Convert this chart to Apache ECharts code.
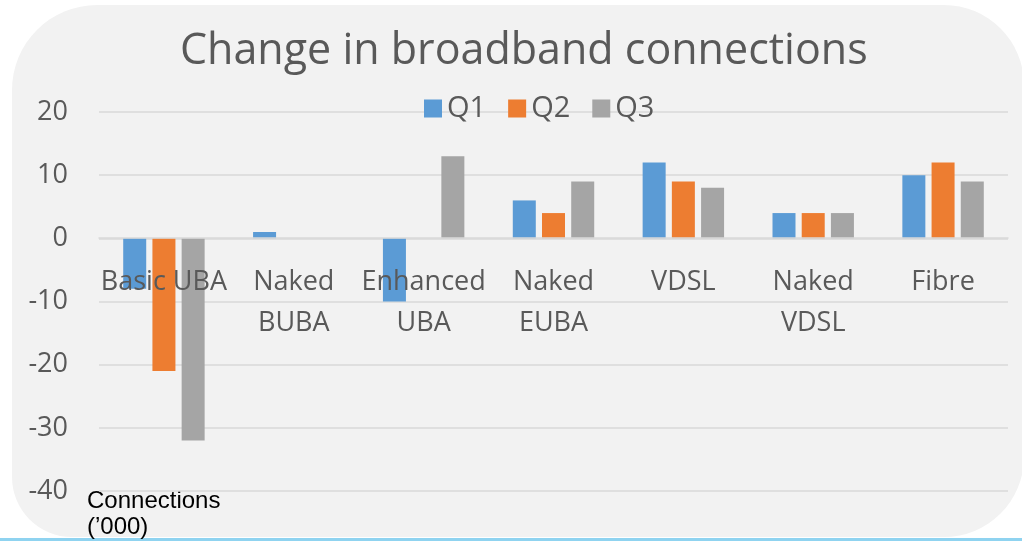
<!DOCTYPE html>
<html>
<head>
<meta charset="UTF-8">
<title>Change in broadband connections</title>
<script src="https://cdn.jsdelivr.net/npm/echarts@6/dist/echarts.min.js"></script>
<style>
  html, body { margin: 0; padding: 0; background: #fff; }
  #chart { width: 1022px; height: 541px; }
</style>
</head>
<body>
<div id="chart"></div>
<script>
// data
var categories = ['Basic UBA', 'Naked\nBUBA', 'Enhanced\nUBA', 'Naked\nEUBA', 'VDSL', 'Naked\nVDSL', 'Fibre'];
var q1 = [-8, 1, -10, 6, 12, 4, 10];
var q2 = [-21, 0, 0, 4, 9, 4, 12];
var q3 = [-32, 0, 13, 9, 8, 4, 9];
var yTicks = [-40, -30, -20, -10, 0, 10, 20];

var textColor = '#595959';
var font = '"Open Sans", sans-serif';

function barSeries(name, data, color) {
    return {
        name: name,
        type: 'bar',
        data: data,
        barWidth: 23,
        barGap: '27%',
        itemStyle: { color: color },
        z: 2
    };
}

var chart = echarts.init(document.getElementById('chart'));
chart.setOption({
    animation: false,
    textStyle: { fontFamily: font },
    graphic: [
        {
            type: 'rect',
            z: -10,
            shape: { x: 12, y: 5, width: 1012, height: 532, r: [85, 80, 80, 60] },
            style: { fill: '#f2f2f2' }
        },
        {
            type: 'rect',
            z: -9,
            shape: { x: 0, y: 538, width: 1022, height: 3 },
            style: { fill: '#8fd3f0' }
        },
        {
            type: 'text',
            left: 87,
            top: 488,
            style: {
                text: 'Connections\n(\u2019000)',
                font: '24px "Liberation Sans", Arial, sans-serif',
                fill: '#000',
                lineHeight: 26
            }
        }
    ],
    title: {
        text: 'Change in broadband connections',
        left: 175,
        top: 25,
        textStyle: { color: textColor, fontSize: 43, fontWeight: 'normal', fontFamily: font }
    },
    legend: {
        data: ['Q1', 'Q2', 'Q3'],
        top: 89,
        left: 419,
        itemWidth: 18,
        itemHeight: 18,
        itemGap: 22,
        icon: 'rect',
        textStyle: { color: textColor, fontSize: 29, fontFamily: font }
    },
    grid: { left: 99, right: 14, top: 112, bottom: 50, containLabel: false, outerBoundsMode: 'none' },
    xAxis: {
        type: 'category',
        data: categories,
        z: 10,
        offset: -253,
        axisLine: { onZero: false, lineStyle: { color: '#d9d9d9', width: 1.5 } },
        axisTick: { show: false },
        axisLabel: {
            color: textColor,
            fontSize: 27,
            lineHeight: 41,
            margin: 24,
            interval: 0,
            fontFamily: font
        }
    },
    yAxis: {
        type: 'value',
        min: yTicks[0],
        max: yTicks[yTicks.length - 1],
        interval: 10,
        axisLine: { show: false },
        axisTick: { show: false },
        axisLabel: { color: textColor, fontSize: 27, margin: 31, fontFamily: font },
        splitLine: { lineStyle: { color: '#d9d9d9', width: 1.5 } }
    },
    series: [
        barSeries('Q1', q1, '#5b9bd5'),
        barSeries('Q2', q2, '#ed7d31'),
        barSeries('Q3', q3, '#a5a5a5')
    ]
});
</script>
</body>
</html>
